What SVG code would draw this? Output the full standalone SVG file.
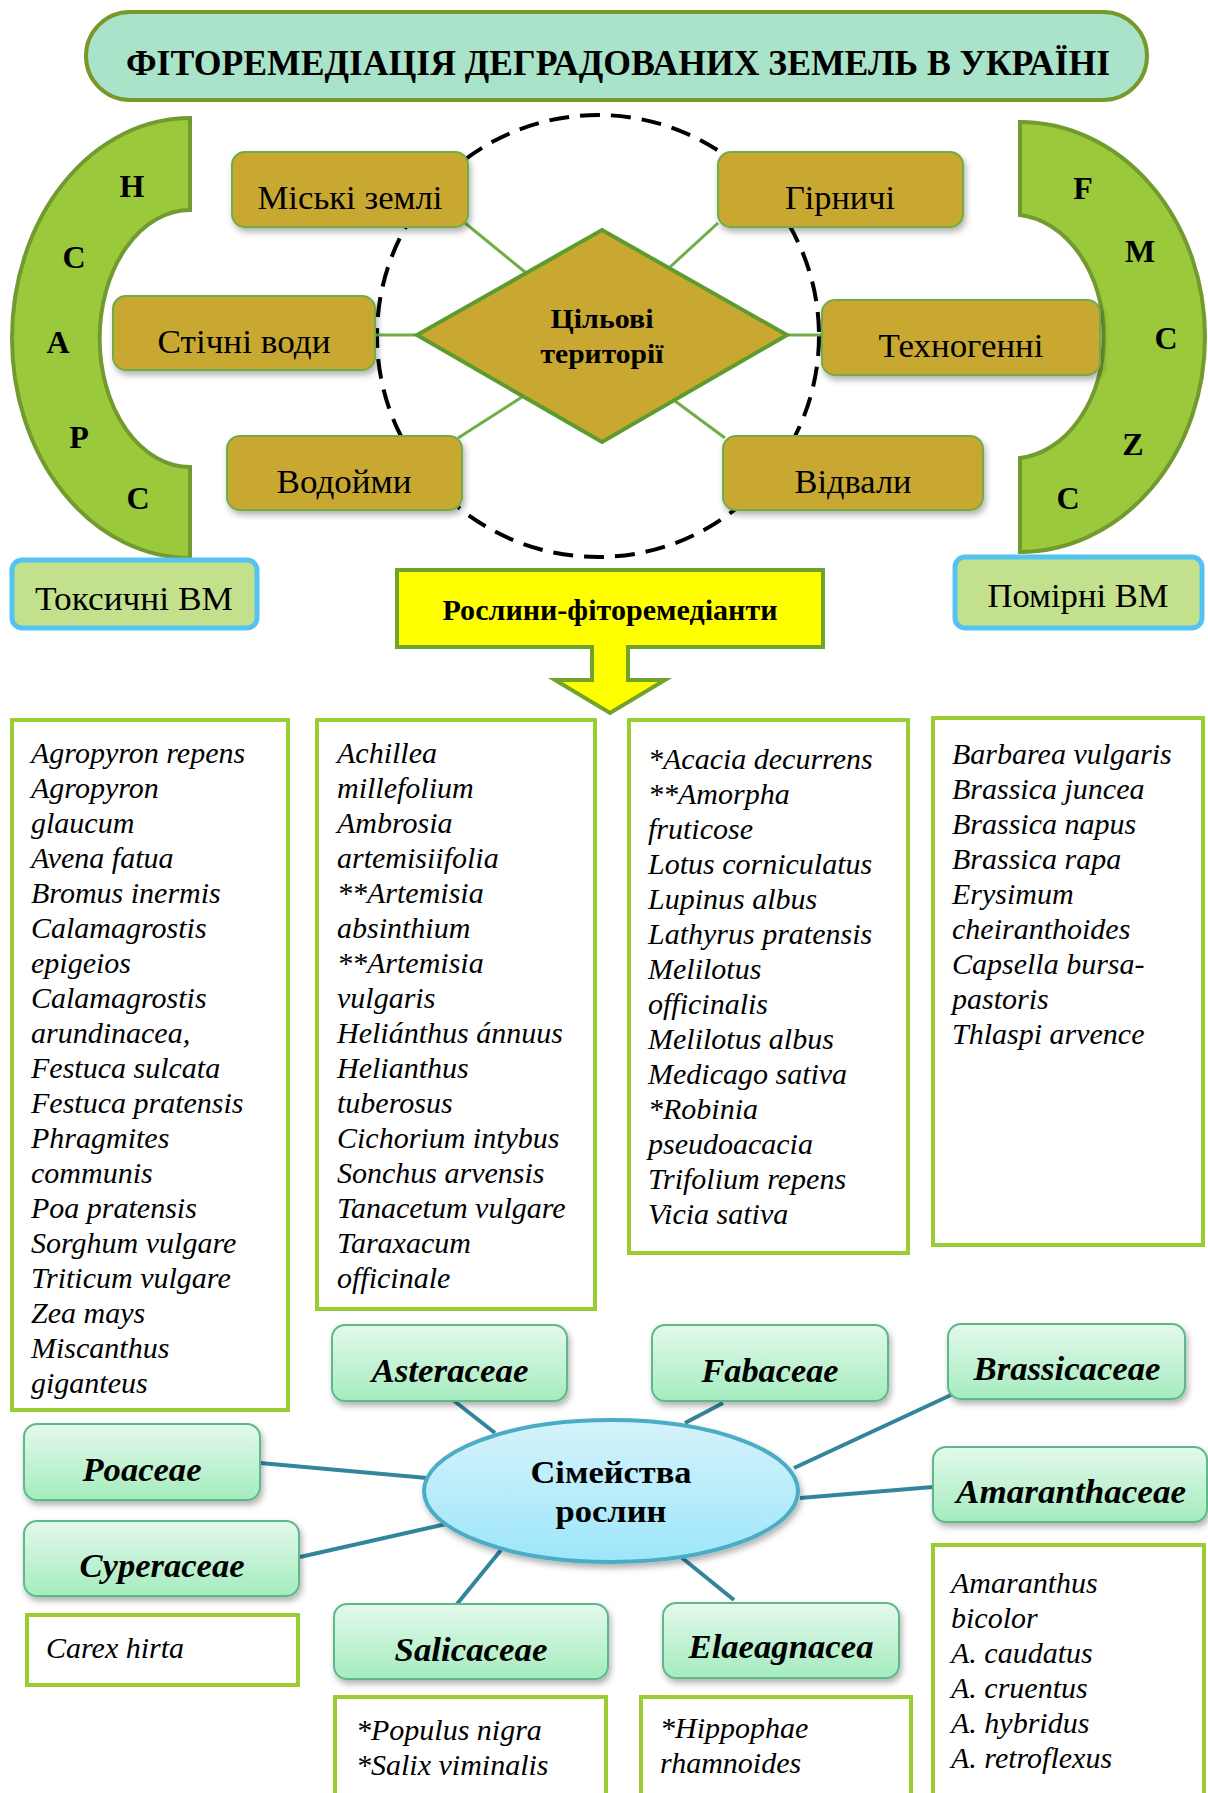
<svg xmlns="http://www.w3.org/2000/svg" width="1208" height="1793" viewBox="0 0 1208 1793">
<defs>
<style>
.serif{font-family:"Liberation Serif","Times New Roman",serif;}
.brown{fill:#C9A832;stroke:#70AD47;stroke-width:2;}
.brlbl{font-family:"Liberation Serif","Times New Roman",serif;font-size:34px;fill:#000;text-anchor:middle;}
.arc{fill:#9ACA3C;stroke:#739A2E;stroke-width:4;}
.letter{font-family:"Liberation Serif","Times New Roman",serif;font-size:32px;font-weight:bold;fill:#000;text-anchor:middle;}
.vm{fill:#C3E08D;stroke:#55C3F0;stroke-width:5;}
.list{fill:#FFFFFF;stroke:#9ACD32;stroke-width:4;}
.sp{font-family:"Liberation Serif","Times New Roman",serif;font-size:30px;font-style:italic;fill:#000;}
.fam{fill:url(#famGrad);stroke:#5DB98A;stroke-width:2;}
.famlbl{font-family:"Liberation Serif","Times New Roman",serif;font-size:33px;font-style:italic;font-weight:bold;fill:#000;text-anchor:middle;}
.gline{stroke:#70AD47;stroke-width:3;fill:none;}
.tline{stroke:#31859C;stroke-width:4;fill:none;}
</style>
<linearGradient id="famGrad" x1="0" y1="0" x2="0" y2="1">
<stop offset="0" stop-color="#E4F9EC"/>
<stop offset="1" stop-color="#A4ECBE"/>
</linearGradient>
<linearGradient id="ellGrad" x1="0" y1="0" x2="0" y2="1">
<stop offset="0" stop-color="#D6F3FB"/>
<stop offset="1" stop-color="#9DE6FA"/>
</linearGradient>
<filter id="shadow" x="-10%" y="-10%" width="130%" height="140%">
<feDropShadow dx="2" dy="4" stdDeviation="3" flood-color="#000" flood-opacity="0.3"/>
</filter>
</defs>
<rect width="1208" height="1793" fill="#FFFFFF"/>

<g id="title">
<rect x="86" y="12" width="1061" height="88" rx="44" ry="44" fill="#A9E3C9" stroke="#76992A" stroke-width="4"/>
<text x="618" y="75" class="serif" font-size="36" font-weight="bold" text-anchor="middle" textLength="984" lengthAdjust="spacingAndGlyphs">ФІТОРЕМЕДІАЦІЯ ДЕГРАДОВАНИХ ЗЕМЕЛЬ В УКРАЇНІ</text>
</g>

<g id="left-arc">
<path class="arc" d="M190,118 A178,220 0 0 0 190,558 L190,467 A90,128 0 0 1 190,210 Z"/>
<text class="letter" x="132" y="197">H</text>
<text class="letter" x="74" y="268">C</text>
<text class="letter" x="58" y="353">A</text>
<text class="letter" x="79" y="448">P</text>
<text class="letter" x="138" y="509">C</text>
</g>

<g id="right-arc">
<path class="arc" d="M1020,122 A185,215 0 0 1 1020,552 L1020,458 A92,122 0 0 0 1020,215 Z"/>
<text class="letter" x="1083" y="199">F</text>
<text class="letter" x="1140" y="262">M</text>
<text class="letter" x="1166" y="349">C</text>
<text class="letter" x="1133" y="455">Z</text>
<text class="letter" x="1068" y="509">C</text>
</g>

<g id="dashed-circle">
<circle cx="598" cy="336" r="221" fill="none" stroke="#000" stroke-width="4" stroke-dasharray="20,11"/>
</g>

<g id="connectors">
<line class="gline" x1="465" y1="223" x2="525" y2="272"/>
<line class="gline" x1="718" y1="223" x2="670" y2="267"/>
<line class="gline" x1="375" y1="335" x2="417" y2="335"/>
<line class="gline" x1="787" y1="335" x2="822" y2="335"/>
<line class="gline" x1="458" y1="438" x2="522" y2="397"/>
<line class="gline" x1="725" y1="438" x2="675" y2="401"/>
<line class="tline" x1="453" y1="1400" x2="495" y2="1433"/>
<line class="tline" x1="723" y1="1403" x2="685" y2="1423"/>
<line class="tline" x1="951" y1="1395" x2="794" y2="1468"/>
<line class="tline" x1="933" y1="1487" x2="800" y2="1498"/>
<line class="tline" x1="734" y1="1600" x2="681" y2="1557"/>
<line class="tline" x1="457" y1="1604" x2="501" y2="1550"/>
<line class="tline" x1="260" y1="1463" x2="427" y2="1478"/>
<line class="tline" x1="300" y1="1557" x2="446" y2="1524"/>
</g>

<g id="node-miski">
<rect class="brown" x="232" y="152" width="236" height="75" rx="13" filter="url(#shadow)"/>
<text class="brlbl" x="350" y="209" textLength="185" lengthAdjust="spacingAndGlyphs">Міські землі</text>
</g>
<g id="node-stichni">
<rect class="brown" x="113" y="296" width="262" height="74" rx="13" filter="url(#shadow)"/>
<text class="brlbl" x="244" y="353" textLength="173" lengthAdjust="spacingAndGlyphs">Стічні води</text>
</g>
<g id="node-vodoymy">
<rect class="brown" x="227" y="436" width="235" height="74" rx="13" filter="url(#shadow)"/>
<text class="brlbl" x="344" y="493" textLength="135" lengthAdjust="spacingAndGlyphs">Водойми</text>
</g>
<g id="node-hirnychi">
<rect class="brown" x="718" y="152" width="245" height="75" rx="13" filter="url(#shadow)"/>
<text class="brlbl" x="840" y="209" textLength="110" lengthAdjust="spacingAndGlyphs">Гірничі</text>
</g>
<g id="node-tekhnohenni">
<rect class="brown" x="822" y="300" width="278" height="75" rx="13" filter="url(#shadow)"/>
<text class="brlbl" x="961" y="357" textLength="165" lengthAdjust="spacingAndGlyphs">Техногенні</text>
</g>
<g id="node-vidvaly">
<rect class="brown" x="723" y="436" width="260" height="74" rx="13" filter="url(#shadow)"/>
<text class="brlbl" x="853" y="493" textLength="117" lengthAdjust="spacingAndGlyphs">Відвали</text>
</g>

<g id="node-center">
<polygon points="602,230 787,335 602,442 417,335" fill="#C9A832" stroke="#5E9B2F" stroke-width="4"/>
<text class="serif" x="602" y="328" font-size="28" font-weight="bold" text-anchor="middle" textLength="103" lengthAdjust="spacingAndGlyphs">Цільові</text>
<text class="serif" x="602" y="363" font-size="28" font-weight="bold" text-anchor="middle" textLength="123" lengthAdjust="spacingAndGlyphs">території</text>
</g>

<g id="node-toksychni">
<rect class="vm" x="12" y="560" width="245" height="68" rx="10"/>
<text class="brlbl" x="134" y="610" textLength="198" lengthAdjust="spacingAndGlyphs">Токсичні ВМ</text>
</g>
<g id="node-pomirni">
<rect class="vm" x="955" y="557" width="247" height="71" rx="10"/>
<text class="brlbl" x="1078" y="607" textLength="181" lengthAdjust="spacingAndGlyphs">Помірні ВМ</text>
</g>

<g id="node-arrow">
<polygon points="397,570 823,570 823,647 628,647 628,680 665,680 610,713 555,680 592,680 592,647 397,647" fill="#FFFF00" stroke="#71A22B" stroke-width="4"/>
<text class="serif" x="610" y="620" font-size="30" font-weight="bold" text-anchor="middle" textLength="335" lengthAdjust="spacingAndGlyphs">Рослини-фіторемедіанти</text>
</g>

<g id="list-poaceae">
<rect class="list" x="12" y="720" width="276" height="690"/>
<text class="sp" x="31" y="763">Agropyron repens</text>
<text class="sp" x="31" y="798">Agropyron</text>
<text class="sp" x="31" y="833">glaucum</text>
<text class="sp" x="31" y="868">Avena fatua</text>
<text class="sp" x="31" y="903">Bromus inermis</text>
<text class="sp" x="31" y="938">Calamagrostis</text>
<text class="sp" x="31" y="973">epigeios</text>
<text class="sp" x="31" y="1008">Calamagrostis</text>
<text class="sp" x="31" y="1043">arundinacea,</text>
<text class="sp" x="31" y="1078">Festuca sulcata</text>
<text class="sp" x="31" y="1113">Festuca pratensis</text>
<text class="sp" x="31" y="1148">Phragmites</text>
<text class="sp" x="31" y="1183">communis</text>
<text class="sp" x="31" y="1218">Poa pratensis</text>
<text class="sp" x="31" y="1253">Sorghum vulgare</text>
<text class="sp" x="31" y="1288">Triticum vulgare</text>
<text class="sp" x="31" y="1323">Zea mays</text>
<text class="sp" x="31" y="1358">Miscanthus</text>
<text class="sp" x="31" y="1393">giganteus</text>
</g>

<g id="list-asteraceae">
<rect class="list" x="317" y="720" width="278" height="589"/>
<text class="sp" x="337" y="763">Achillea</text>
<text class="sp" x="337" y="798">millefolium</text>
<text class="sp" x="337" y="833">Ambrosia</text>
<text class="sp" x="337" y="868">artemisiifolia</text>
<text class="sp" x="337" y="903">**Artemisia</text>
<text class="sp" x="337" y="938">absinthium</text>
<text class="sp" x="337" y="973">**Artemisia</text>
<text class="sp" x="337" y="1008">vulgaris</text>
<text class="sp" x="337" y="1043">Heliánthus ánnuus</text>
<text class="sp" x="337" y="1078">Helianthus</text>
<text class="sp" x="337" y="1113">tuberosus</text>
<text class="sp" x="337" y="1148">Cichorium intybus</text>
<text class="sp" x="337" y="1183">Sonchus arvensis</text>
<text class="sp" x="337" y="1218">Tanacetum vulgare</text>
<text class="sp" x="337" y="1253">Taraxacum</text>
<text class="sp" x="337" y="1288">officinale</text>
</g>

<g id="list-fabaceae">
<rect class="list" x="629" y="720" width="279" height="533"/>
<text class="sp" x="648" y="769">*Acacia decurrens</text>
<text class="sp" x="648" y="804">**Amorpha</text>
<text class="sp" x="648" y="839">fruticose</text>
<text class="sp" x="648" y="874">Lotus corniculatus</text>
<text class="sp" x="648" y="909">Lupinus albus</text>
<text class="sp" x="648" y="944">Lathyrus pratensis</text>
<text class="sp" x="648" y="979">Melilotus</text>
<text class="sp" x="648" y="1014">officinalis</text>
<text class="sp" x="648" y="1049">Melilotus albus</text>
<text class="sp" x="648" y="1084">Medicago sativa</text>
<text class="sp" x="648" y="1119">*Robinia</text>
<text class="sp" x="648" y="1154">pseudoacacia</text>
<text class="sp" x="648" y="1189">Trifolium repens</text>
<text class="sp" x="648" y="1224">Vicia sativa</text>
</g>

<g id="list-brassicaceae">
<rect class="list" x="933" y="718" width="270" height="527"/>
<text class="sp" x="952" y="764">Barbarea vulgaris</text>
<text class="sp" x="952" y="799">Brassica juncea</text>
<text class="sp" x="952" y="834">Brassica napus</text>
<text class="sp" x="952" y="869">Brassica rapa</text>
<text class="sp" x="952" y="904">Erysimum</text>
<text class="sp" x="952" y="939">cheiranthoides</text>
<text class="sp" x="952" y="974">Capsella bursa-</text>
<text class="sp" x="952" y="1009">pastoris</text>
<text class="sp" x="952" y="1044">Thlaspi arvence</text>
</g>

<g id="node-families">
<ellipse cx="611" cy="1491" rx="187" ry="71" fill="url(#ellGrad)" stroke="#4BACC6" stroke-width="4" filter="url(#shadow)"/>
<text class="serif" x="611" y="1483" font-size="32" font-weight="bold" text-anchor="middle" textLength="161" lengthAdjust="spacingAndGlyphs">Сімейства</text>
<text class="serif" x="611" y="1522" font-size="32" font-weight="bold" text-anchor="middle" textLength="111" lengthAdjust="spacingAndGlyphs">рослин</text>
</g>

<g id="node-asteraceae">
<rect class="fam" x="332" y="1325" width="235" height="76" rx="13" filter="url(#shadow)"/>
<text class="famlbl" x="450" y="1382" textLength="157" lengthAdjust="spacingAndGlyphs">Asteraceae</text>
</g>
<g id="node-fabaceae">
<rect class="fam" x="652" y="1325" width="236" height="76" rx="13" filter="url(#shadow)"/>
<text class="famlbl" x="770" y="1382" textLength="137" lengthAdjust="spacingAndGlyphs">Fabaceae</text>
</g>
<g id="node-brassicaceae">
<rect class="fam" x="948" y="1324" width="237" height="75" rx="13" filter="url(#shadow)"/>
<text class="famlbl" x="1067" y="1380" textLength="187" lengthAdjust="spacingAndGlyphs">Brassicaceae</text>
</g>
<g id="node-poaceae">
<rect class="fam" x="24" y="1424" width="236" height="76" rx="13" filter="url(#shadow)"/>
<text class="famlbl" x="142" y="1481" textLength="119" lengthAdjust="spacingAndGlyphs">Poaceae</text>
</g>
<g id="node-amaranthaceae">
<rect class="fam" x="933" y="1447" width="274" height="75" rx="13" filter="url(#shadow)"/>
<text class="famlbl" x="1071" y="1503" textLength="230" lengthAdjust="spacingAndGlyphs">Amaranthaceae</text>
</g>
<g id="node-cyperaceae">
<rect class="fam" x="24" y="1521" width="275" height="75" rx="13" filter="url(#shadow)"/>
<text class="famlbl" x="162" y="1577" textLength="165" lengthAdjust="spacingAndGlyphs">Cyperaceae</text>
</g>
<g id="node-salicaceae">
<rect class="fam" x="334" y="1604" width="274" height="75" rx="13" filter="url(#shadow)"/>
<text class="famlbl" x="471" y="1661" textLength="153" lengthAdjust="spacingAndGlyphs">Salicaceae</text>
</g>
<g id="node-elaeagnacea">
<rect class="fam" x="663" y="1603" width="236" height="75" rx="13" filter="url(#shadow)"/>
<text class="famlbl" x="781" y="1658" textLength="185" lengthAdjust="spacingAndGlyphs">Elaeagnacea</text>
</g>

<g id="list-cyperaceae">
<rect class="list" x="27" y="1615" width="271" height="70"/>
<text class="sp" x="46" y="1658">Carex hirta</text>
</g>
<g id="list-salicaceae">
<rect class="list" x="335" y="1697" width="271" height="110"/>
<text class="sp" x="356" y="1740">*Populus nigra</text>
<text class="sp" x="356" y="1775">*Salix viminalis</text>
</g>
<g id="list-elaeagnacea">
<rect class="list" x="641" y="1697" width="270" height="110"/>
<text class="sp" x="660" y="1738">*Hippophae</text>
<text class="sp" x="660" y="1773">rhamnoides</text>
</g>
<g id="list-amaranthaceae">
<rect class="list" x="933" y="1545" width="271" height="262"/>
<text class="sp" x="951" y="1593">Amaranthus</text>
<text class="sp" x="951" y="1628">bicolor</text>
<text class="sp" x="951" y="1663">A. caudatus</text>
<text class="sp" x="951" y="1698">A. cruentus</text>
<text class="sp" x="951" y="1733">A. hybridus</text>
<text class="sp" x="951" y="1768">A. retroflexus</text>
</g>
</svg>
